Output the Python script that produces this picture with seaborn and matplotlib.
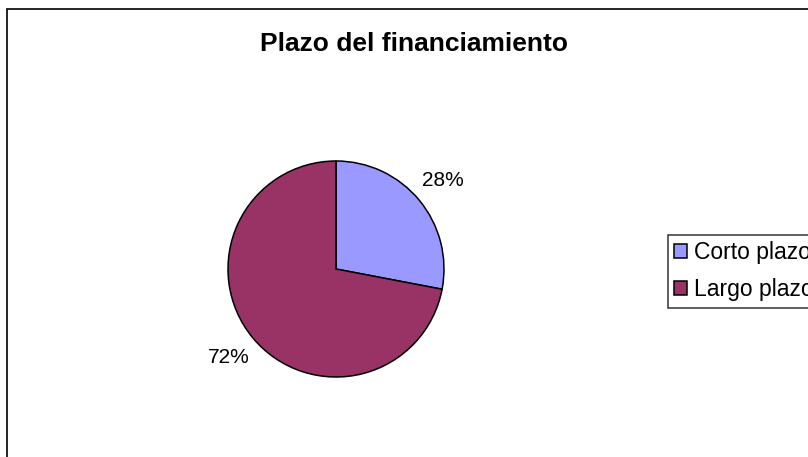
import matplotlib
matplotlib.use("Agg")
import matplotlib.pyplot as plt
import seaborn as sns
from matplotlib.patches import Rectangle

# Data
categories = ['Corto plazo', 'Largo plazo']
shares = [28, 72]
slice_colors = ['#9999FF', '#993366']
chart_title = 'Plazo del financiamiento'

sns.set_theme(style="white")
plt.rcParams['font.family'] = ['Liberation Sans', 'DejaVu Sans']

W, H = 808, 457
fig = plt.figure(figsize=(W / 100, H / 100), dpi=100)
fig.patch.set_facecolor('white')

# chart area border (right and bottom fall outside the picture)
fig.patches.append(Rectangle((6.5 / W, -0.1), 1.2, 1.1 - 9.5 / H,
                             transform=fig.transFigure, fill=False,
                             edgecolor='black', linewidth=1.2))

# pie axes: centre (336, 269), radius 108 px
cx, cy, r = 336, 269, 108
ax = fig.add_axes([(cx - r) / W, (H - cy - r) / H, 2 * r / W, 2 * r / H])
palette = sns.color_palette(slice_colors)
wedges, texts, autotexts = ax.pie(
    shares, colors=palette, startangle=90, counterclock=False,
    autopct='%1.0f%%', pctdistance=1.29,
    wedgeprops=dict(edgecolor='black', linewidth=1.1),
    textprops=dict(fontsize=15, color='black'))
ax.set_xlim(-1, 1)
ax.set_ylim(-1, 1)
ax.set_aspect('auto')

fig.text(414 / W, 1 - 51 / H, chart_title, ha='center', va='baseline',
         fontsize=19, fontweight='bold', color='black')

# legend runs off the right edge, as in the original
leg = fig.legend(wedges, categories, loc='upper left',
                 bbox_to_anchor=(668 / W, 1 - 235 / H), borderaxespad=0,
                 fontsize=16.5, frameon=True, fancybox=False, shadow=False,
                 handlelength=0.57, handleheight=0.57, handletextpad=0.28,
                 labelspacing=0.6, borderpad=0.28, labelcolor='black')
leg.get_frame().set_edgecolor('black')
leg.get_frame().set_linewidth(1.1)

fig.savefig('out.png', dpi=100, facecolor='white')
